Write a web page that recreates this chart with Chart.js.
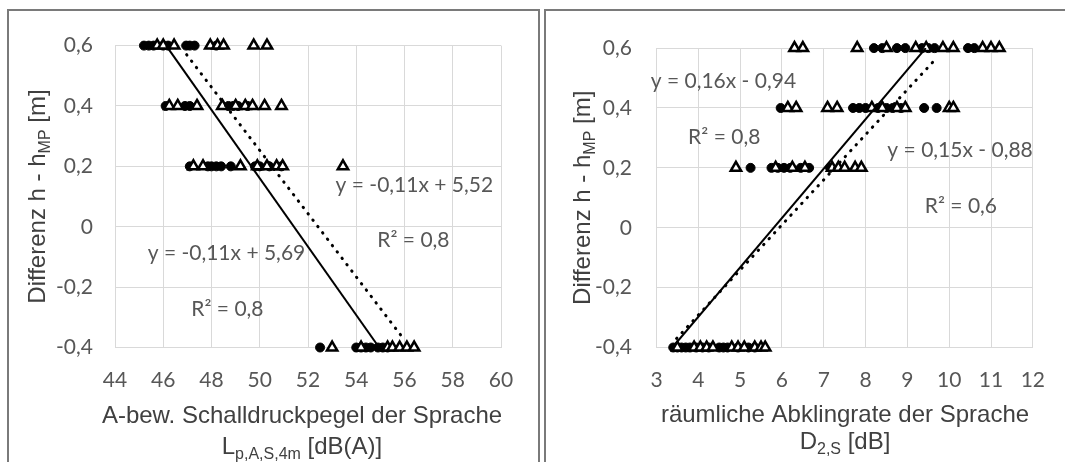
<!DOCTYPE html>
<html>
<head>
<meta charset="utf-8">
<script src="https://cdn.jsdelivr.net/npm/chart.js@4/dist/chart.umd.min.js"></script>
<style>
body { margin: 0; background: #fff; width: 1065px; height: 462px; overflow: hidden; position: relative; }
.box { position: absolute; top: 9px; height: 480px; border: 2px solid #7a7a7a; box-sizing: border-box; }
#boxL { left: 7px; width: 533px; }
#boxR { left: 544px; width: 540px; }
canvas { position: absolute; }
#chartL { left: 9px; top: 11px; }
#chartR { left: 546px; top: 11px; }
</style>
</head>
<body>
<div class="box" id="boxL"></div>
<div class="box" id="boxR"></div>
<canvas id="chartL" width="529" height="451"></canvas>
<canvas id="chartR" width="519" height="451"></canvas>
<script>
// y levels shared by both charts (row order of the x arrays below)
const levels = [0.6, 0.4, 0.2, -0.4];

// left chart: A-weighted speech level
const leftCircles = [
    [45.2, 45.4, 45.6, 46.0, 46.2, 46.95, 47.1, 47.3, 48.2],
    [46.1, 46.9, 47.1, 48.7, 48.9, 49.1, 49.5],
    [47.1, 47.85, 48.0, 48.2, 48.4, 48.8, 49.8, 50.0, 50.4, 50.9],
    [52.5, 54.0, 54.2, 54.4, 54.6, 54.9, 55.1, 55.3]
];
const leftTriangles = [
    [45.75, 46.0, 46.45, 47.95, 48.25, 48.5, 49.75, 50.3],
    [46.25, 46.6, 47.4, 48.45, 49.0, 49.4, 49.7, 50.2, 50.9],
    [47.25, 47.65, 49.2, 49.9, 50.3, 50.7, 50.95, 53.45],
    [53.0, 54.2, 55.3, 55.5, 55.8, 56.1, 56.4]
];
const leftSolidFit = [{ x: 46.12, y: 0.6 }, { x: 54.95, y: -0.4 }];
const leftDottedFit = [{ x: 46.97, y: 0.57 }, { x: 55.95, y: -0.37 }];
const leftNotes = ["y = -0,11x + 5,52", "R² = 0,8", "y = -0,11x + 5,69", "R² = 0,8"];
const leftNoteX = [56.41, 56.37, 48.62, 48.66];
const leftNoteY = [0.136, -0.046, -0.088, -0.274];

// right chart: spatial decay rate
const rightCircles = [
    [8.2, 8.4, 8.75, 8.95, 9.35, 9.5, 9.65, 10.45, 10.6],
    [5.97, 7.7, 7.85, 8.0, 8.3, 8.5, 8.65, 8.85, 9.4, 9.7],
    [5.25, 5.75, 5.9, 6.05, 6.2, 6.45, 6.65, 7.15],
    [3.4, 3.5, 3.6, 3.7, 3.8, 3.95, 4.1, 4.25, 4.5, 4.6, 4.7, 4.95, 5.2, 5.35]
];
const rightTriangles = [
    [6.3, 6.5, 7.8, 8.5, 9.2, 9.45, 9.85, 10.1, 10.8, 11.0, 11.2],
    [6.14, 6.34, 7.09, 7.32, 8.15, 8.4, 8.75, 8.95, 10.0, 10.1],
    [4.9, 5.85, 6.25, 6.55, 7.2, 7.35, 7.5, 7.75, 7.9],
    [3.5, 3.9, 4.05, 4.2, 4.35, 4.8, 4.95, 5.1, 5.35, 5.5, 5.6]
];
const rightSolidFit = [{ x: 3.38, y: -0.4 }, { x: 9.44, y: 0.6 }];
const rightDottedFit = [{ x: 3.48, y: -0.37 }, { x: 9.72, y: 0.57 }];
const rightNotes = ["y = 0,16x - 0,94", "R² = 0,8", "y = 0,15x - 0,88", "R² = 0,6"];
const rightNoteX = [4.6, 4.62, 10.26, 10.28];
const rightNoteY = [0.491, 0.302, 0.258, 0.072];

const tickFont = { family: "Lato", size: 21 };
const titleFont = "24px 'Liberation Sans', Arial, sans-serif";
const subFont = "16px 'Liberation Sans', Arial, sans-serif";

function toPoints(rows) {
    const pts = [];
    rows.forEach((row, i) => row.forEach(x => pts.push({ x: x, y: levels[i] })));
    return pts;
}

function fmtY(v) {
    const r = Math.round(v * 10) / 10;
    return r === 0 ? "0" : r.toFixed(1).replace(".", ",");
}

// draws text parts [text, isSubscript] centred on cx
function drawRich(ctx, parts, cx, y) {
    let w = 0;
    parts.forEach(p => { ctx.font = p[1] ? subFont : titleFont; w += ctx.measureText(p[0]).width; });
    let x = cx - w / 2;
    ctx.textAlign = "left";
    ctx.textBaseline = "alphabetic";
    parts.forEach(p => {
        ctx.font = p[1] ? subFont : titleFont;
        ctx.fillText(p[0], x, y + (p[1] ? 5 : 0));
        x += ctx.measureText(p[0]).width;
    });
}

function makeTextLayer(c) {
    return {
        id: "textLayer",
        afterDraw(chart) {
            const ctx = chart.ctx;
            const xs = chart.scales.x, ys = chart.scales.y;
            const area = chart.chartArea;
            ctx.save();
            ctx.fillStyle = "#575757";
            ctx.font = "21px Lato";
            ctx.textAlign = "center";
            ctx.textBaseline = "middle";
            c.notes.forEach((t, i) => {
                ctx.fillText(t, xs.getPixelForValue(c.noteX[i]), ys.getPixelForValue(c.noteY[i]));
            });

            ctx.fillStyle = "#404040";
            drawRich(ctx, c.xTitle1, c.xTitleX, c.xTitleY1);
            drawRich(ctx, c.xTitle2, c.xTitleX, c.xTitleY2);

            ctx.translate(c.yTitleX, (area.top + area.bottom) / 2);
            ctx.rotate(-Math.PI / 2);
            drawRich(ctx, [["Differenz h - h", false], ["MP", true], [" [m]", false]], 0, 0);
            ctx.restore();
        }
    };
}

function makeChart(id, c) {
    const grid = { color: "#d9d9d9", lineWidth: 1, drawTicks: false };
    return new Chart(document.getElementById(id), {
        type: "scatter",
        data: {
            datasets: [
                { type: "line", data: c.solid, borderColor: "#000", borderWidth: 2, pointRadius: 0, fill: false, order: 0 },
                { type: "line", data: c.dotted, borderColor: "#000", borderWidth: 3, borderDash: [0.5, 7.5], borderCapStyle: "round", pointRadius: 0, fill: false, order: 1 },
                { data: toPoints(c.triangles), pointStyle: "triangle", pointRadius: 6, backgroundColor: "#fff", borderColor: "#000", borderWidth: 2.5, clip: false, order: 2 },
                { data: toPoints(c.circles), pointStyle: "circle", pointRadius: 4.5, backgroundColor: "#000", borderColor: "#000", borderWidth: 1, clip: false, order: 3 }
            ]
        },
        options: {
            responsive: false,
            animation: false,
            devicePixelRatio: 1,
            layout: { padding: { left: 0, top: 24, right: c.padRight, bottom: 54.5 } },
            plugins: { legend: { display: false }, tooltip: { enabled: false } },
            scales: {
                x: {
                    type: "linear", min: c.xMin, max: c.xMax,
                    ticks: { stepSize: c.xStep, font: tickFont, color: "#575757", padding: 20, callback: v => String(v) },
                    grid: grid, border: { color: "#d9d9d9" },
                    afterFit: s => { s.height = 60; }
                },
                y: {
                    type: "linear", min: -0.4, max: 0.6,
                    ticks: { stepSize: 0.2, font: tickFont, color: "#575757", padding: c.yPad, callback: fmtY },
                    grid: grid, border: { color: "#d9d9d9" },
                    afterFit: s => { s.width = c.plotLeft; }
                }
            }
        },
        plugins: [makeTextLayer(c)]
    });
}

makeChart("chartL", {
    circles: leftCircles, triangles: leftTriangles,
    solid: leftSolidFit, dotted: leftDottedFit,
    notes: leftNotes, noteX: leftNoteX, noteY: leftNoteY,
    xMin: 44, xMax: 60, xStep: 2,
    plotLeft: 106, padRight: 37, yPad: 22,
    yTitleX: 36,
    xTitleX: 293, xTitleY1: 412, xTitleY2: 443,
    xTitle1: [["A-bew. Schalldruckpegel der Sprache", false]],
    xTitle2: [["L", false], ["p,A,S,4m", true], [" [dB(A)]", false]]
});

makeChart("chartR", {
    circles: rightCircles, triangles: rightTriangles,
    solid: rightSolidFit, dotted: rightDottedFit,
    notes: rightNotes, noteX: rightNoteX, noteY: rightNoteY,
    xMin: 3, xMax: 12, xStep: 1,
    plotLeft: 110.5, padRight: 26, yPad: 24.5,
    yTitleX: 44,
    xTitleX: 299, xTitleY1: 411, xTitleY2: 438,
    xTitle1: [["räumliche Abklingrate der Sprache", false]],
    xTitle2: [["D", false], ["2,S", true], [" [dB]", false]]
});
</script>
</body>
</html>
